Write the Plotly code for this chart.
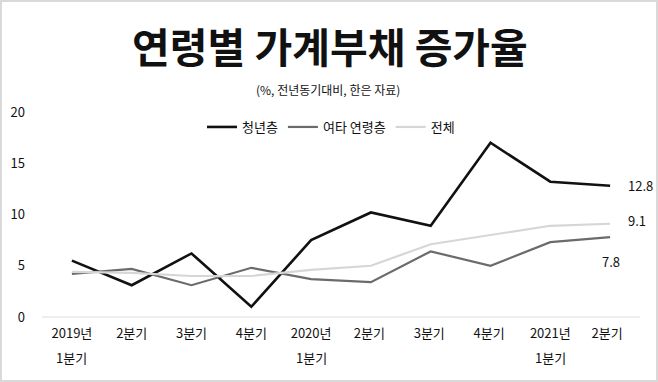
import plotly.graph_objects as go

categories = ["2019년", "2분기", "3분기", "4분기", "2020년",
              "2분기 ", "3분기 ", "4분기 ", "2021년", "2분기  "]
sub_labels = ["1분기", "", "", "", "1분기", "", "", "", "1분기", ""]
youth = [5.5, 3.1, 6.2, 1.0, 7.5, 10.2, 8.9, 17.0, 13.2, 12.8]
others = [4.2, 4.7, 3.1, 4.8, 3.7, 3.4, 6.4, 5.0, 7.3, 7.8]
total = [4.4, 4.3, 4.0, 4.0, 4.6, 5.0, 7.1, 8.0, 8.9, 9.1]
y_ticks = [0, 5, 10, 15, 20]

FONT = "Noto Sans CJK KR"
W, H = 658, 382
ML, MR, MT, MB = 42, 18, 112, 65

fig = go.Figure()
fig.add_trace(go.Scatter(x=categories, y=youth, mode="lines", name="청년층",
                         line=dict(color="#111111", width=2.6)))
fig.add_trace(go.Scatter(x=categories, y=others, mode="lines", name="여타 연령층",
                         line=dict(color="#6b6b6b", width=2.2)))
fig.add_trace(go.Scatter(x=categories, y=total, mode="lines", name="전체",
                         line=dict(color="#d6d6d6", width=2.2)))

pw = W - ML - MR
ph = H - MT - MB

annotations = [
    dict(text="<b>연령별 가계부채 증가율</b>", xref="paper", yref="paper",
         x=(330 - ML) / pw, y=(H - MB - 45) / ph, showarrow=False,
         font=dict(family=FONT, size=41, color="#111111"), xanchor="center", yanchor="middle"),
    dict(text="(%, 전년동기대비, 한은 자료)", xref="paper", yref="paper",
         x=(328 - ML) / pw, y=(H - MB - 90) / ph, showarrow=False,
         font=dict(family=FONT, size=12, color="#111111"), xanchor="center", yanchor="middle"),
    dict(text=f"{youth[-1]:.1f}", x=categories[-1], y=youth[-1], xref="x", yref="y",
         showarrow=False, xshift=30, font=dict(family=FONT, size=13, color="#111111")),
    dict(text=f"{total[-1]:.1f}", x=categories[-1], y=total[-1], xref="x", yref="y",
         showarrow=False, xshift=27, yshift=3, font=dict(family=FONT, size=13, color="#111111")),
    dict(text=f"{others[-1]:.1f}", x=categories[-1], y=others[-1], xref="x", yref="y",
         showarrow=False, xshift=1, yshift=-24, font=dict(family=FONT, size=13, color="#111111")),
]
for cat, sub in zip(categories, sub_labels):
    if sub:
        annotations.append(dict(text=sub, x=cat, xref="x", yref="paper",
                                y=-(357 - (H - MB)) / ph, yanchor="middle",
                                showarrow=False,
                                font=dict(family=FONT, size=13, color="#111111")))

fig.update_layout(
    width=W, height=H,
    margin=dict(l=ML, r=MR, t=MT, b=MB),
    paper_bgcolor="white", plot_bgcolor="white",
    font=dict(family=FONT, size=13, color="#111111"),
    showlegend=True,
    legend=dict(orientation="h", x=(331 - ML) / pw, xanchor="center",
                y=(H - MB - 127) / ph, yanchor="middle",
                font=dict(family=FONT, size=13, color="#111111"),
                bgcolor="rgba(0,0,0,0)", itemwidth=30, tracegroupgap=0),
    annotations=annotations,
    shapes=[dict(type="rect", xref="paper", yref="paper",
                 x0=(1 - ML) / pw, x1=(W - 1 - ML) / pw,
                 y0=-(MB - 1) / ph, y1=(H - 1 - MB) / ph,
                 line=dict(color="#d9d9d9", width=2), layer="below")],
)
fig.update_xaxes(type="category", showgrid=False, zeroline=False, showline=False,
                 ticks="outside", ticklen=4, tickcolor="rgba(0,0,0,0)",
                 tickfont=dict(family=FONT, size=13, color="#111111"),
                 range=[-0.5, 9.5])
fig.update_yaxes(range=[0, 20], tickvals=y_ticks, showgrid=False,
                 zeroline=True, zerolinecolor="#eeeeee", zerolinewidth=1.5,
                 showline=False, ticks="", ticklabelstandoff=16,
                 tickfont=dict(family=FONT, size=13, color="#111111"))

fig.write_html("out.html", config={"displayModeBar": False},
               post_script="document.body.style.margin='0';document.body.style.overflow='hidden';")
